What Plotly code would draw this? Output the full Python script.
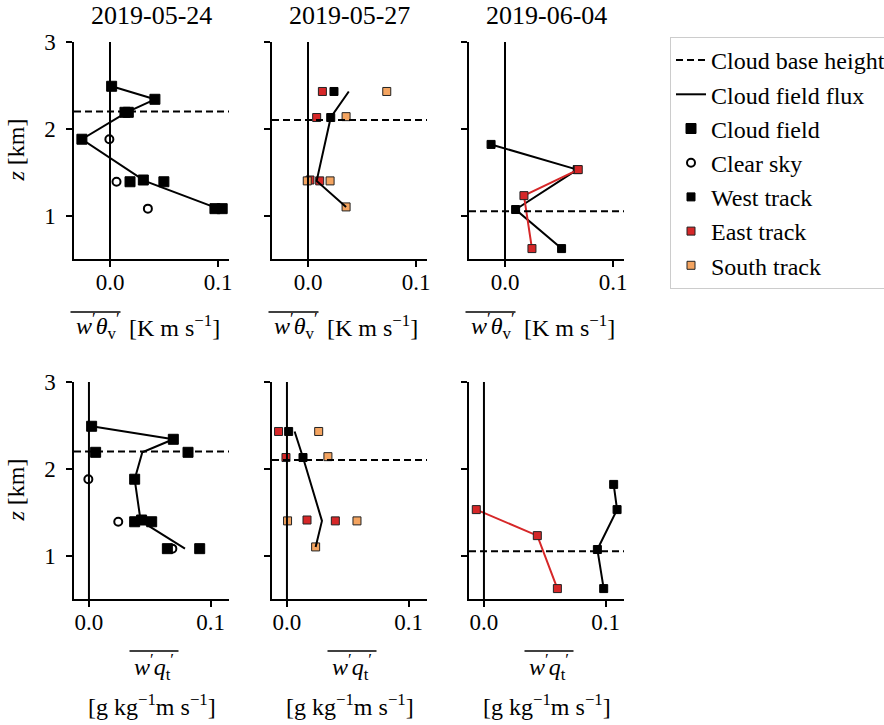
import plotly.graph_objects as go

# ---- data -------------------------------------------------------------
dates = ["2019-05-24", "2019-05-27", "2019-06-04"]
cloud_base = [2.20, 2.10, 1.05]          # km

# 2019-05-24 : cloud field / clear sky samples
cf_z = [2.49, 2.34, 2.19, 2.19, 1.88, 1.39, 1.41, 1.39, 1.08, 1.08]
cf_theta = [0.0015, 0.0415, 0.0138, 0.0169, -0.026, 0.0185, 0.0308, 0.0498, 0.097, 0.1037]
cf_q = [0.0022, 0.0694, 0.0055, 0.0815, 0.0376, 0.0376, 0.0433, 0.0516, 0.0645, 0.0911]
cs_z = [1.88, 1.39, 1.08]
cs_theta = [-0.0006, 0.006, 0.035]
cs_q = [-0.0005, 0.0241, 0.0686]
flux1_z = [2.49, 2.34, 2.19, 1.88, 1.40, 1.08]
flux1_theta = [0.0015, 0.0415, 0.0153, -0.026, 0.032, 0.100]
flux1_q = [0.0022, 0.0694, 0.0439, 0.0376, 0.0425, 0.079]

# 2019-05-27 : flight tracks
west2_z = [2.43, 2.13]
west2_theta = [0.024, 0.021]
west2_q = [0.0014, 0.0132]
east2_z = [2.43, 2.13, 1.41, 1.40]
east2_theta = [0.0133, 0.008, 0.0018, 0.0108]
east2_q = [-0.0069, -0.0008, 0.0165, 0.0398]
south2_z = [2.43, 2.14, 1.40, 1.40, 1.10]
south2_theta = [0.0728, 0.0352, -0.0007, 0.0204, 0.0352]
south2_q = [0.0261, 0.0337, 0.0005, 0.0576, 0.0236]
flux2_z = [2.43, 2.13, 1.40, 1.10]
flux2_theta = [0.0377, 0.021, 0.008, 0.0352]
flux2_q = [0.0063, 0.0132, 0.0288, 0.0236]

# 2019-06-04 : flight tracks
west3_z = [1.82, 1.53, 1.07, 0.62]
west3_theta = [-0.0129, 0.0668, 0.0098, 0.0523]
west3_q = [0.1067, 0.1095, 0.0933, 0.0985]
east3_z = [1.53, 1.23, 0.62]
east3_theta = [0.0677, 0.0175, 0.0249]
east3_q = [-0.0063, 0.0439, 0.0604]

x_ticks = [0.0, 0.1]
x_tick_text = ["0.0", "0.1"]
z_ticks = [1, 2, 3]

# ---- styling ----------------------------------------------------------
W, H = 884, 725
FONT = "Liberation Serif"
RED = "#d62728"
ORANGE = "#f4a460"
EDGE = "#222222"

col_dom = [[74 / W, 229 / W], [272 / W, 427 / W], [469 / W, 624 / W]]
row_dom = [[1 - 259 / H, 1 - 42 / H], [1 - 599 / H, 1 - 382 / H]]
row_xrange = [[-0.0333, 0.110], [-0.0123, 0.1152]]
z_range = [0.5, 3.0]

fig = go.Figure()


def ids(k):
    s = "" if k == 1 else str(k)
    return "x" + s, "y" + s


def scatter(k, x, z, **kw):
    xa, ya = ids(k)
    fig.add_trace(go.Scatter(x=x, y=z, xaxis=xa, yaxis=ya, **kw))


big_sq = dict(symbol="square", size=10, color="black", line=dict(color="black", width=1))
circ = dict(symbol="circle-open", size=8, color="black", line=dict(color="black", width=2))
west_sq = dict(symbol="square", size=8, color="black", line=dict(color="black", width=1))
east_sq = dict(symbol="square", size=8, color=RED, line=dict(color=EDGE, width=1))
south_sq = dict(symbol="square", size=8, color=ORANGE, line=dict(color=EDGE, width=1))
flux_line = dict(color="black", width=2)

for r in range(2):
    base = r * 3
    top = r == 0
    # 2019-05-24
    scatter(base + 1, cf_theta if top else cf_q, cf_z, mode="markers", marker=big_sq,
            name="Cloud field", legendgroup="cf", legendrank=3, showlegend=top)
    scatter(base + 1, cs_theta if top else cs_q, cs_z, mode="markers", marker=circ,
            name="Clear sky", legendgroup="cs", legendrank=4, showlegend=top)
    scatter(base + 1, flux1_theta if top else flux1_q, flux1_z, mode="lines", line=flux_line,
            name="Cloud field flux", legendgroup="flux", legendrank=2, showlegend=top)
    # 2019-05-27
    scatter(base + 2, west2_theta if top else west2_q, west2_z, mode="markers", marker=west_sq,
            name="West track", legendgroup="west", legendrank=5, showlegend=top)
    scatter(base + 2, east2_theta if top else east2_q, east2_z, mode="markers", marker=east_sq,
            name="East track", legendgroup="east", legendrank=6, showlegend=top)
    scatter(base + 2, south2_theta if top else south2_q, south2_z, mode="markers", marker=south_sq,
            name="South track", legendgroup="south", legendrank=7, showlegend=top)
    scatter(base + 2, flux2_theta if top else flux2_q, flux2_z, mode="lines", line=flux_line,
            name="Cloud field flux", legendgroup="flux", showlegend=False)
    # 2019-06-04
    scatter(base + 3, west3_theta if top else west3_q, west3_z, mode="lines+markers",
            marker=west_sq, line=dict(color="black", width=2),
            name="West track", legendgroup="west", showlegend=False)
    scatter(base + 3, east3_theta if top else east3_q, east3_z, mode="lines+markers",
            marker=east_sq, line=dict(color=RED, width=2),
            name="East track", legendgroup="east", showlegend=False)

# zero lines and cloud base heights
for k in range(1, 7):
    xa, ya = ids(k)
    c = (k - 1) % 3
    fig.add_shape(type="line", xref=xa, yref=ya + " domain", x0=0, x1=0, y0=0, y1=1,
                  line=dict(color="black", width=2), layer="above")
    fig.add_shape(type="line", xref=xa + " domain", yref=ya, x0=0, x1=1,
                  y0=cloud_base[c], y1=cloud_base[c],
                  line=dict(color="black", width=2, dash="7px,4px"), layer="above",
                  name="Cloud base height", legendgroup="cbh", legendrank=1,
                  showlegend=(k == 1))

axis_common = dict(showline=True, linecolor="black", linewidth=1.5, ticks="outside",
                   ticklen=6, tickwidth=1.5, tickcolor="black", showgrid=False,
                   zeroline=False, tickfont=dict(family=FONT, size=23, color="black"))
layout = {}
for r in range(2):
    for c in range(3):
        k = r * 3 + c + 1
        xa, ya = ids(k)
        layout["xaxis" + xa[1:]] = dict(axis_common, domain=col_dom[c], range=row_xrange[r],
                                        anchor=ya, tickvals=x_ticks, ticktext=x_tick_text,
                                        ticklabelstandoff=-4)
        layout["yaxis" + ya[1:]] = dict(axis_common, domain=row_dom[r], range=z_range,
                                        anchor=xa, tickvals=z_ticks, showticklabels=(c == 0),
                                        ticklabelstandoff=6)


def px_x(v):
    return v / W


def px_y(v):
    return 1 - v / H


ann = []
tf = dict(family=FONT, size=24, color="black")
overline = dict(color="black", width=1.5)
for c, d in enumerate(dates):
    cx = (col_dom[c][0] + col_dom[c][1]) / 2 * W
    ann.append(dict(text=d, x=px_x(cx), y=px_y(16), xref="paper", yref="paper",
                    showarrow=False, xanchor="center", yanchor="middle",
                    font=dict(family=FONT, size=26, color="black")))
    # heat flux label: overlined covariance + units
    ann.append(dict(text="<i>w</i><sup>′</sup><i>θ</i><sub>v</sub><sup>′</sup>",
                    x=px_x(cx - 30), y=px_y(326), xref="paper", yref="paper",
                    showarrow=False, xanchor="right", yanchor="middle", font=tf))
    ann.append(dict(text="[K m s<sup>−1</sup>]",
                    x=px_x(cx - 25), y=px_y(326), xref="paper", yref="paper",
                    showarrow=False, xanchor="left", yanchor="middle", font=tf))
    fig.add_shape(type="line", xref="paper", yref="paper",
                  x0=px_x(cx - 81), x1=px_x(cx - 31), y0=px_y(312), y1=px_y(312),
                  line=overline)
    # moisture flux label
    ann.append(dict(text="<i>w</i><sup>′</sup><i>q</i><sub>t</sub><sup>′</sup>",
                    x=px_x(cx + 2), y=px_y(667), xref="paper", yref="paper",
                    showarrow=False, xanchor="center", yanchor="middle", font=tf))
    fig.add_shape(type="line", xref="paper", yref="paper",
                  x0=px_x(cx - 22), x1=px_x(cx + 27), y0=px_y(651), y1=px_y(651),
                  line=overline)
    ann.append(dict(text="[g kg<sup>−1</sup>m s<sup>−1</sup>]",
                    x=px_x(cx), y=px_y(705), xref="paper", yref="paper",
                    showarrow=False, xanchor="center", yanchor="middle", font=tf))
for yc in [150.5, 490.5]:
    ann.append(dict(text="<i>z</i> [km]", x=px_x(15), y=px_y(yc), xref="paper", yref="paper",
                    showarrow=False, textangle=-90, xanchor="center", yanchor="middle",
                    font=tf))

fig.update_layout(
    width=W, height=H, margin=dict(l=0, r=0, t=0, b=0, autoexpand=False),
    paper_bgcolor="white", plot_bgcolor="white",
    font=dict(family=FONT, size=22, color="black"),
    annotations=ann,
    legend=dict(x=px_x(670), y=px_y(37), xanchor="left", yanchor="top",
                bordercolor="#cccccc", borderwidth=1, bgcolor="white",
                traceorder="grouped", tracegroupgap=0,
                font=dict(family=FONT, size=24, color="black")),
    **layout,
)

fig.write_html("out.html")
